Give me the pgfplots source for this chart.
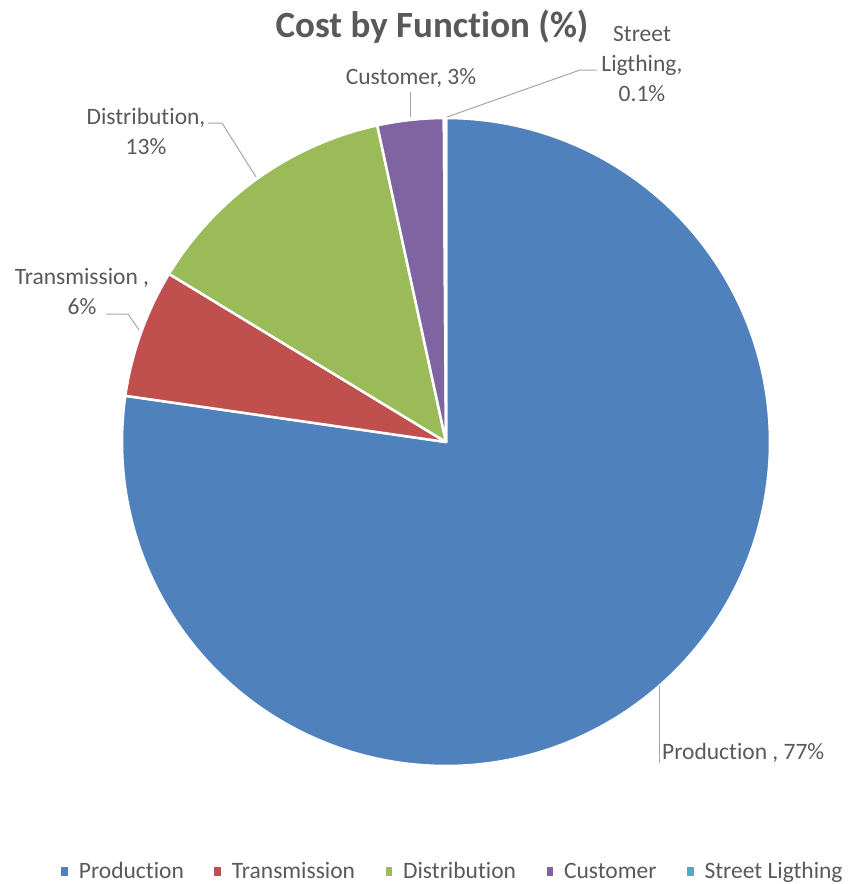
\documentclass[border=0pt]{standalone}
\usepackage{pgfplots}
\pgfplotsset{compat=1.18}
\usepackage{fontspec}
\setmainfont{Carlito}[Ligatures={NoCommon}]
\definecolor{cProd}{HTML}{4F81BD}
\definecolor{cTran}{HTML}{C0504D}
\definecolor{cDist}{HTML}{9BBB59}
\definecolor{cCust}{HTML}{8064A2}
\definecolor{cStreet}{HTML}{4BACC6}
\definecolor{txt}{HTML}{595959}
\definecolor{lead}{HTML}{A6A6A6}
% values (%)
\def\vProd{77.2}
\def\vTran{6.4}
\def\vDist{12.9}
\def\vCust{3.3}
\def\vStreet{0.1}
\pgfmathsetmacro{\vTot}{\vProd+\vTran+\vDist+\vCust+\vStreet}
\pgfmathsetmacro{\cA}{\vProd}
\pgfmathsetmacro{\cB}{\cA+\vTran}
\pgfmathsetmacro{\cC}{\cB+\vDist}
\pgfmathsetmacro{\cD}{\cC+\vCust}
\pgfmathsetmacro{\cE}{\cD+\vStreet}
\def\cx{446}\def\cy{442}\def\rr{324}
\newcommand{\slice}[4]{%
  \addplot[fill=#3, draw=white, line width=2.5pt, line join=round, domain=#1:#2, samples=#4, variable=\t]
   ({\cx+\rr*sin(\t*360/\vTot)},{\cy-\rr*cos(\t*360/\vTot)}) -- (axis cs:\cx,\cy) -- cycle;
}
\begin{document}
\begin{tikzpicture}
\begin{axis}[width=855pt, height=884pt, scale only axis,
  xmin=0, xmax=855, ymin=0, ymax=884, y dir=reverse,
  axis lines=none, clip=false,
  legend style={at={(axis cs:452,871)}, anchor=center, draw=none, fill=none,
    font=\fontsize{23.5}{24}\selectfont, text=txt, legend columns=-1,
    /tikz/every even column/.append style={column sep=30.5pt},
    inner sep=0pt, outer sep=0pt,
    nodes={inner sep=0pt, outer sep=0pt, anchor=base west, text=txt}},
  legend image code/.code={\fill[#1, draw=none] (0pt,2pt) rectangle (6.5pt,11pt);},
  /pgfplots/legend cell align=left,
]
\slice{0}{\cA}{cProd}{240}
\slice{\cA}{\cB}{cTran}{30}
\slice{\cB}{\cC}{cDist}{50}
\slice{\cC}{\cD}{cCust}{20}
\slice{\cD}{\cE}{cStreet}{2}
\legend{\hspace{11pt}Production,\hspace{11pt}Transmission,\hspace{11pt}Distribution,\hspace{11pt}Customer,\hspace{11pt}Street Ligthing}
% leader lines
\draw[lead, line width=1pt] (axis cs:447,117) -- (axis cs:580,70) -- (axis cs:597,70);
\draw[lead, line width=1pt] (axis cs:410,117) -- (axis cs:410,92);
\draw[lead, line width=1pt] (axis cs:208,123) -- (axis cs:222,123) -- (axis cs:256,177);
\draw[lead, line width=1pt] (axis cs:106,314) -- (axis cs:128,314) -- (axis cs:139,330);
\draw[lead, line width=1pt] (axis cs:659,686) -- (axis cs:659,763);
% labels
\node[font=\fontsize{37}{44}\selectfont\bfseries, text=txt] at (axis cs:432,27) {Cost by Function (\%)};
\node[font=\fontsize{23.5}{30}\selectfont, text=txt, align=center] at (axis cs:642,64) {Street\\Ligthing,\\0.1\%};
\node[font=\fontsize{23.5}{30}\selectfont, text=txt] at (axis cs:411,78) {Customer, 3\%};
\node[font=\fontsize{23.5}{30}\selectfont, text=txt, align=center] at (axis cs:146,131) {Distribution,\\13\%};
\node[font=\fontsize{23.5}{30}\selectfont, text=txt, align=center] at (axis cs:82,292) {Transmission ,\\6\%};
\node[font=\fontsize{23.5}{30}\selectfont, text=txt, anchor=west, inner sep=0pt] at (axis cs:662,753) {Production , 77\%};
\coordinate (tl) at (axis cs:0,0);
\coordinate (br) at (axis cs:855,884);
\end{axis}
\pgfresetboundingbox
\path[use as bounding box] (tl) rectangle (br);
\end{tikzpicture}
\end{document}
